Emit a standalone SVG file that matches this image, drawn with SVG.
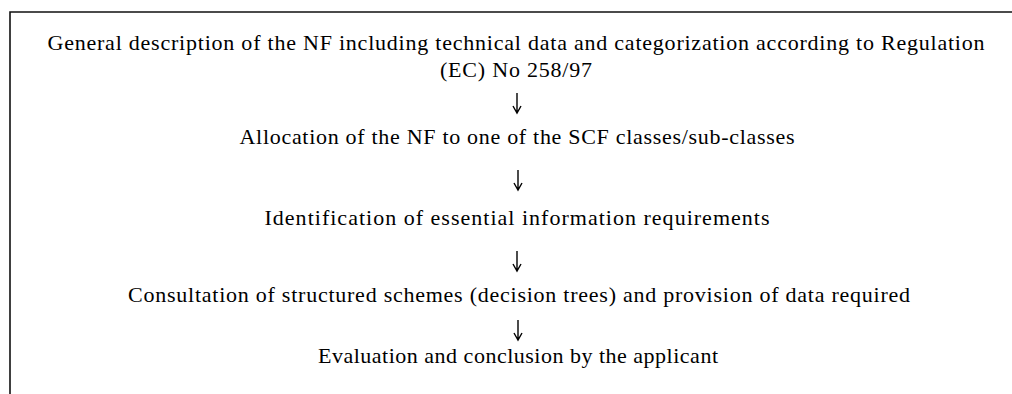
<svg xmlns="http://www.w3.org/2000/svg" width="1012" height="394" viewBox="0 0 1012 394">
<style>
.t{font-family:"Liberation Serif","Times New Roman",serif;font-size:22px;fill:#000;text-anchor:middle}
.frame{fill:none;stroke:#111;stroke-width:1.6}
.arr{fill:none;stroke:#000;stroke-width:1.4}
</style>
<rect width="1012" height="394" fill="#fff"/>
<path class="frame" d="M10,394 V12 H1012"/>
<g id="node-general">
<text class="t" x="516" y="50" textLength="937" lengthAdjust="spacing">General description of the NF including technical data and categorization according to Regulation</text>
<text class="t" x="516" y="77" textLength="152" lengthAdjust="spacing">(EC) No 258/97</text>
</g>
<g id="node-allocation">
<text class="t" x="517" y="144" textLength="555" lengthAdjust="spacing">Allocation of the NF to one of the SCF classes/sub-classes</text>
</g>
<g id="node-identification">
<text class="t" x="517" y="225" textLength="505" lengthAdjust="spacing">Identification of essential information requirements</text>
</g>
<g id="node-consultation">
<text class="t" x="519" y="302" textLength="782" lengthAdjust="spacing">Consultation of structured schemes (decision trees) and provision of data required</text>
</g>
<g id="node-evaluation">
<text class="t" x="518" y="363" textLength="400" lengthAdjust="spacing">Evaluation and conclusion by the applicant</text>
</g>
<g id="connectors">
<path class="arr" d="M517,93 V113 M513,106 L517,113 L521,106"/>
<path class="arr" d="M518,170 V190 M514,183 L518,190 L522,183"/>
<path class="arr" d="M517,251 V271 M513,264 L517,271 L521,264"/>
<path class="arr" d="M518,320 V340 M514,333 L518,340 L522,333"/>
</g>
</svg>
